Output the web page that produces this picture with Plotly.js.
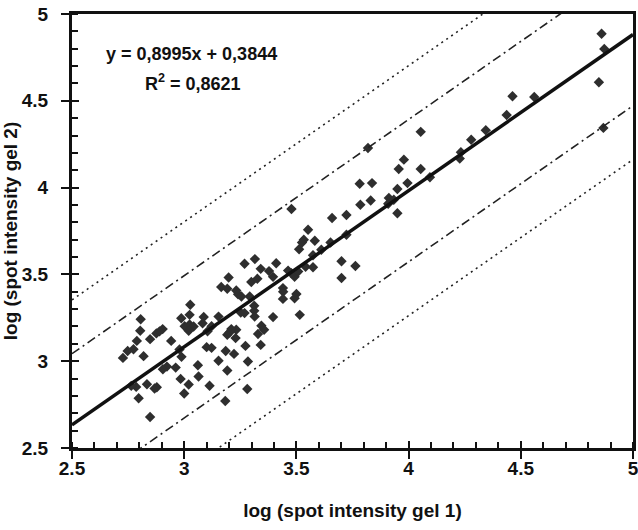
<!DOCTYPE html>
<html><head><meta charset="utf-8">
<script src="https://cdn.plot.ly/plotly-3.0.1.min.js"></script>
<style>html,body{margin:0;padding:0;background:#fff}#chart{width:638px;height:530px}</style>
</head><body><div id="chart"></div>
<script>
// log spot intensity, gel 1 (x) and gel 2 (y)
const gel1 = [
 2.727,2.748,2.774,2.789,2.804,2.806,2.819,2.848,2.876,2.904,2.890,2.942,2.987,3.024,3.027,3.002,3.024,3.042,3.020,3.087,
 3.082,3.122,3.104,2.979,2.988,3.100,3.122,2.923,2.905,2.962,3.061,3.064,2.984,3.020,3.000,3.113,2.834,2.878,2.868,2.786,
 2.764,2.797,2.848,
 3.478,3.552,3.533,3.525,3.582,3.512,3.574,3.269,3.315,3.410,3.341,3.378,3.396,3.463,3.478,3.492,3.508,3.541,3.574,3.198,
 3.299,3.326,3.165,3.192,3.232,3.240,3.255,3.440,3.441,3.440,3.500,3.492,3.292,3.312,3.312,3.252,3.269,3.314,3.153,3.396,
 3.515,3.344,3.356,3.329,3.232,3.210,3.192,3.202,3.229,3.273,3.341,3.185,3.222,3.153,3.284,3.192,3.281,3.183,
 3.782,3.837,3.950,3.995,3.912,3.934,3.909,3.785,3.831,3.950,3.659,3.723,3.652,3.723,3.611,3.701,3.763,3.701,4.054,4.054,
 3.979,3.956,3.819,4.095,4.233,4.228,4.279,4.344,4.437,4.463,4.560,4.860,4.872,4.848,4.868
];
const gel2 = [
 3.019,3.059,3.069,3.117,3.175,3.242,3.029,3.127,3.160,3.185,3.172,3.117,3.247,3.267,3.325,3.201,3.212,3.200,3.175,3.255,
 3.218,3.201,3.172,3.068,3.025,3.081,3.077,2.969,2.954,2.963,2.977,2.912,2.898,2.866,2.814,2.859,2.867,2.850,2.843,2.852,
 2.858,2.787,2.679,
 3.877,3.757,3.700,3.684,3.694,3.645,3.610,3.561,3.588,3.564,3.532,3.519,3.486,3.522,3.507,3.486,3.517,3.544,3.541,3.482,
 3.456,3.475,3.427,3.417,3.407,3.386,3.373,3.421,3.400,3.359,3.387,3.363,3.373,3.319,3.290,3.280,3.277,3.257,3.257,3.254,
 3.267,3.204,3.181,3.157,3.181,3.185,3.152,3.165,3.133,3.088,3.094,3.059,3.042,3.003,2.998,2.946,2.840,2.771,
 4.022,4.026,3.992,4.026,3.940,3.930,3.907,3.901,3.926,3.852,3.825,3.842,3.684,3.728,3.642,3.576,3.548,3.479,4.321,4.107,
 4.161,4.107,4.228,4.060,4.204,4.167,4.276,4.330,4.418,4.526,4.522,4.886,4.799,4.607,4.344
];
const slope = 0.8995;
const intercept = 0.3844;
const rSquared = 0.8621;
const innerBand = 0.41;   // dash-dot lines
const outerBand = 0.72;   // dotted lines
const axisRange = [2.5, 5];
const tickLabels = ['2.5','3','3.5','4','4.5','5'];

const lineX = axisRange.slice();
const fit = off => lineX.map(x => slope * x + intercept + off);
const FONT = 'Liberation Sans, Arial, Helvetica, sans-serif';

const traces = [
  {x: gel1, y: gel2, type: 'scatter', mode: 'markers', cliponaxis: true,
   marker: {symbol: 'diamond', size: 8, color: '#2e2e2e', line: {width: 0}}, hoverinfo: 'skip'},
  {x: lineX, y: fit(0), mode: 'lines', line: {color: '#111', width: 3.5}},
  {x: lineX, y: fit(innerBand), mode: 'lines', line: {color: '#222', width: 1.6, dash: '9px,4px,2px,4px'}},
  {x: lineX, y: fit(-innerBand), mode: 'lines', line: {color: '#222', width: 1.6, dash: '9px,4px,2px,4px'}},
  {x: lineX, y: fit(outerBand), mode: 'lines', line: {color: '#222', width: 1.6, dash: '2px,4px'}},
  {x: lineX, y: fit(-outerBand), mode: 'lines', line: {color: '#222', width: 1.6, dash: '2px,4px'}},
  {x: [], y: [], xaxis: 'x2', yaxis: 'y2', mode: 'markers', hoverinfo: 'skip'}
];

const tickVals = tickLabels.map(Number);
const baseAxis = {
  range: axisRange, tickvals: tickVals, ticktext: tickLabels,
  ticks: 'outside', ticklen: 8, tickwidth: 2, tickcolor: '#111',
  showline: true, linewidth: 3, linecolor: '#111', mirror: true,
  showgrid: false, zeroline: false, ticklabeloverflow: 'allow',
  minor: {dtick: 0.1, tick0: 2.5, ticks: 'inside', ticklen: 6, tickwidth: 2, tickcolor: '#111', showgrid: false},
  tickfont: {family: FONT, size: 19, color: '#111', weight: 'bold'}
};
const overlayAxis = {
  range: axisRange, tickvals: tickVals, ticks: 'inside', ticklen: 7, tickwidth: 2, tickcolor: '#111',
  showticklabels: false, showline: false, showgrid: false, zeroline: false
};
const titleFont = {family: FONT, size: 19, color: '#111', weight: 'bold'};

const layout = {
  width: 638, height: 530,
  margin: {l: 72, r: 5, t: 14, b: 82},
  paper_bgcolor: '#fff', plot_bgcolor: '#fff',
  showlegend: false,
  font: {family: FONT, color: '#111'},
  xaxis: Object.assign({}, baseAxis, {
    ticklabelstandoff: -7,
    title: {text: 'log (spot intensity gel 1)', font: titleFont, standoff: 26}
  }),
  yaxis: Object.assign({}, baseAxis, {
    ticklabelstandoff: 9,
    title: {text: 'log (spot intensity gel 2)', font: titleFont, standoff: 0}
  }),
  xaxis2: Object.assign({}, overlayAxis, {overlaying: 'x', anchor: 'y2', side: 'bottom'}),
  yaxis2: Object.assign({}, overlayAxis, {overlaying: 'y', anchor: 'x2', side: 'left'}),
  annotations: [
    {xref: 'paper', yref: 'paper', x: 0.213, y: 0.907, xanchor: 'center', yanchor: 'middle', showarrow: false,
     text: 'y = ' + String(slope).replace('.', ',') + 'x + ' + String(intercept).replace('.', ','),
     font: {family: FONT, size: 18, color: '#111', weight: 'bold'}},
    {xref: 'paper', yref: 'paper', x: 0.216, y: 0.842, xanchor: 'center', yanchor: 'middle', showarrow: false,
     text: 'R<sup>2</sup> = ' + String(rSquared).replace('.', ','),
     font: {family: FONT, size: 18, color: '#111', weight: 'bold'}}
  ]
};

Plotly.newPlot('chart', traces, layout, {staticPlot: true, displayModeBar: false});
</script></body></html>
